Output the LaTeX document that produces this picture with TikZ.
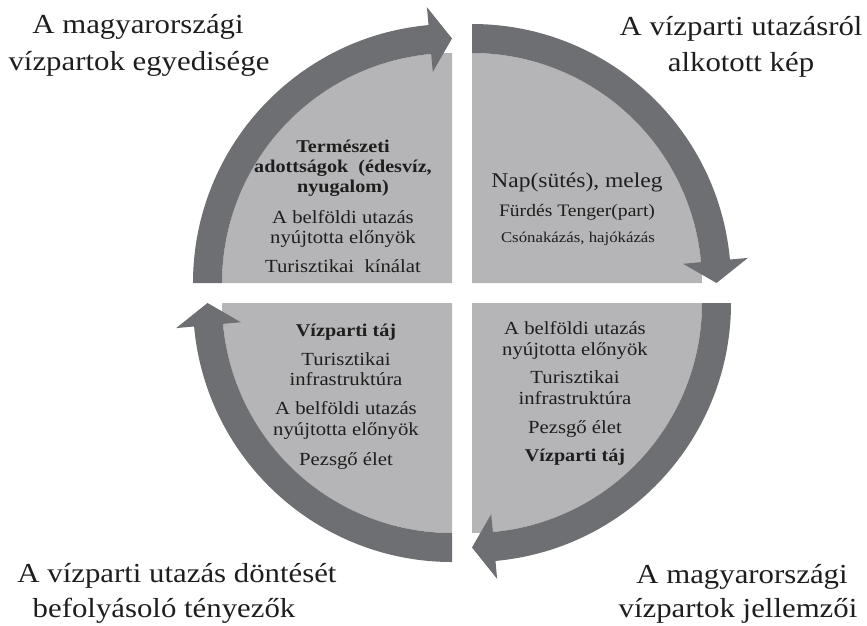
\documentclass[tikz,border=0pt]{standalone}
\usepackage{fontspec}
\setmainfont{Liberation Serif}[FakeStretch=1.12]
\definecolor{qdBand}{HTML}{6E6F73}
\definecolor{qdFill}{HTML}{B5B5B7}
\definecolor{qdText}{HTML}{1E1E1E}
\tikzset{
  qd band/.style={fill=qdBand},
  qd fill/.style={fill=qdFill},
  qd title/.style={anchor=base, inner sep=0pt, text=qdText, font=\fontsize{27.5}{30}\selectfont},
  qd line/.style={anchor=base, inner sep=0pt, text=qdText, font=\fontsize{18.5}{20}\selectfont},
  qd bold/.style={qd line, font=\fontsize{18}{20}\selectfont\bfseries},
}

\begin{document}
\begin{tikzpicture}[x=1pt,y=-1pt]
  \useasboundingbox (0,0) rectangle (867,625);

  % four quarter discs, each with its curved arrow band
  \foreach \cx/\cy/\a in {452/283/180,472/283/270,472/303/0,452/303/90} {
    \begin{scope}[shift={(\cx,\cy)}]
      \fill[qd fill] (0,0) -- (\a:230) arc[start angle=\a, delta angle=90, radius=230] -- cycle;
      \fill[qd band] (\a:230) -- (\a:259) arc[start angle=\a, delta angle=84.8, radius=259]
        -- (\a+84.8:277) -- (\a+90:244.5) -- (\a+84.8:212) -- (\a+84.8:230)
        arc[start angle=\a+84.8, delta angle=-84.8, radius=230] -- cycle;
    \end{scope}
  }

  % corner titles
  \node[qd title] (tlTitleA) at (138,33) {A magyarországi};
  \node[qd title] (tlTitleB) at (139,70) {vízpartok egyedisége};
  \node[qd title] (trTitleA) at (741,35) {A vízparti utazásról};
  \node[qd title] (trTitleB) at (741,71) {alkotott kép};
  \node[qd title] (blTitleA) at (177,582) {A vízparti utazás döntését};
  \node[qd title] (blTitleB) at (164,617) {befolyásoló tényezők};
  \node[qd title] (brTitleA) at (742,583) {A magyarországi};
  \node[qd title] (brTitleB) at (738,617) {vízpartok jellemzői};

  % top left block
  \node[qd bold] (tl1) at (343,152) {Természeti};
  \node[qd bold] (tl2) at (343,172) {adottságok\ \ (édesvíz,};
  \node[qd bold] (tl3) at (343,192) {nyugalom)};
  \foreach \txt/\y [count=\i from 4] in {A belföldi utazás/223,nyújtotta előnyök/243,Turisztikai\ \ kínálat/272}
    \node[qd line] (tl\i) at (343,\y) {\txt};

  % top right block
  \node[qd line, font=\fontsize{21}{22}\selectfont] (tr1) at (577,187) {Nap(sütés), meleg};
  \node[qd line, font=\fontsize{17.5}{19}\selectfont] (tr2) at (577,216) {Fürdés Tenger(part)};
  \node[qd line, font=\fontsize{15}{16}\selectfont] (tr3) at (578,242) {Csónakázás, hajókázás};

  % bottom left block
  \node[qd bold] (bl1) at (346,336) {Vízparti táj};
  \foreach \txt/\y [count=\i from 2] in {Turisztikai/365,infrastruktúra/385,A belföldi utazás/414,nyújtotta előnyök/435,Pezsgő élet/465}
    \node[qd line] (bl\i) at (346,\y) {\txt};

  % bottom right block
  \foreach \txt/\y [count=\i] in {A belföldi utazás/334,nyújtotta előnyök/355,Turisztikai/383,infrastruktúra/404,Pezsgő élet/433}
    \node[qd line] (br\i) at (575,\y) {\txt};
  \node[qd bold] (br6) at (575,461) {Vízparti táj};
\end{tikzpicture}
\end{document}
